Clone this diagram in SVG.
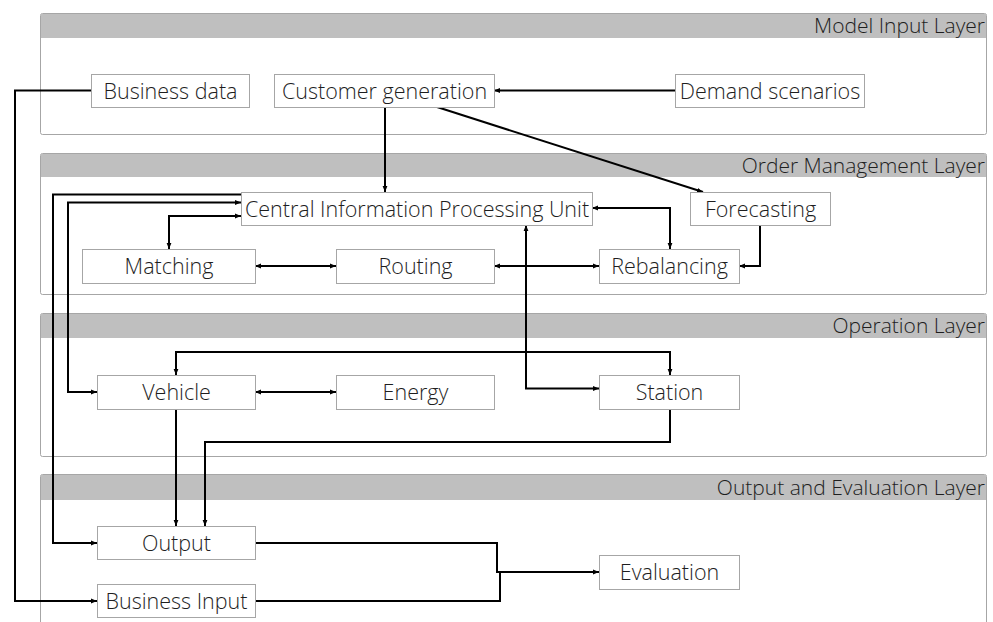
<svg xmlns="http://www.w3.org/2000/svg" width="993" height="622" viewBox="0 0 993 622">
<defs>
<style>
.layer{fill:#fff;stroke:#a6a6a6;stroke-width:1}
.hdr{fill:#bfbfbf}
.ltxt{font-family:"Open Sans",sans-serif;font-weight:300;font-size:21px;fill:#1e1e1e;text-anchor:end}
.box{fill:#fff;stroke:#a6a6a6;stroke-width:1}
.ntxt{font-family:"Open Sans",sans-serif;font-weight:300;font-size:21.5px;fill:#1e1e1e;text-anchor:middle}
.c{fill:none;stroke:#000;stroke-width:2}
</style>
<marker id="ah" viewBox="0 0 10 10" refX="10" refY="5" markerWidth="6" markerHeight="6" markerUnits="userSpaceOnUse" orient="auto-start-reverse">
<path d="M0,1 L10,5 L0,9 z" fill="#000"/>
</marker>
</defs>
<rect width="993" height="622" fill="#fff"/>
<g id="layers">
<g id="layer-model-input">
<rect class="layer" x="40.5" y="13.5" width="946" height="121" rx="2"/>
<rect class="hdr" x="41" y="14" width="945" height="24"/>
<text class="ltxt" x="985" y="33">Model Input Layer</text>
</g>
<g id="layer-order">
<rect class="layer" x="40.5" y="153.5" width="946" height="141" rx="2"/>
<rect class="hdr" x="41" y="154" width="945" height="23"/>
<text class="ltxt" x="985" y="173">Order Management Layer</text>
</g>
<g id="layer-operation">
<rect class="layer" x="40.5" y="313.5" width="946" height="143" rx="2"/>
<rect class="hdr" x="41" y="314" width="945" height="24"/>
<text class="ltxt" x="985" y="333">Operation Layer</text>
</g>
<g id="layer-output">
<rect class="layer" x="40.5" y="474.5" width="946" height="160" rx="2"/>
<rect class="hdr" x="41" y="475" width="945" height="25"/>
<text class="ltxt" x="985" y="495">Output and Evaluation Layer</text>
</g>
</g>
<g id="connectors">
<path class="c" d="M91,90.5 H15 V601 H97" marker-end="url(#ah)"/>
<path class="c" d="M675,90.5 H494" marker-end="url(#ah)"/>
<path class="c" d="M385,107 V192" marker-end="url(#ah)"/>
<path class="c" d="M437,107 L703,192" stroke-width="1.8" marker-end="url(#ah)"/>
<path class="c" d="M241,194.5 H53 V543 H97" marker-end="url(#ah)"/>
<path class="c" d="M241,202.5 H68 V392 H97" marker-start="url(#ah)" marker-end="url(#ah)"/>
<path class="c" d="M241,216 H169 V249" marker-start="url(#ah)" marker-end="url(#ah)"/>
<path class="c" d="M255,266 H336" marker-start="url(#ah)" marker-end="url(#ah)"/>
<path class="c" d="M494,266 H599" marker-start="url(#ah)" marker-end="url(#ah)"/>
<path class="c" d="M592,208 H670 V249" marker-start="url(#ah)" marker-end="url(#ah)"/>
<path class="c" d="M760,225 V266 H739" marker-end="url(#ah)"/>
<path class="c" d="M526,225 V388.5 H599" marker-start="url(#ah)" marker-end="url(#ah)"/>
<path class="c" d="M176,375 V352 H670 V375" marker-start="url(#ah)" marker-end="url(#ah)"/>
<path class="c" d="M255,392 H336" marker-start="url(#ah)" marker-end="url(#ah)"/>
<path class="c" d="M176,409 V526" marker-end="url(#ah)"/>
<path class="c" d="M670,409 V442 H205 V526" stroke-width="2.5" marker-end="url(#ah)"/>
<path class="c" d="M255,543 H497 V572 H501"/>
<path class="c" d="M255,601 H500 V572 H599" marker-end="url(#ah)"/>
</g>
<g id="n-business-data"><rect class="box" x="91.5" y="74.5" width="158" height="33"/><text class="ntxt" x="170.5" y="98.5">Business data</text></g>
<g id="n-customer-generation"><rect class="box" x="274.5" y="74.5" width="220" height="33"/><text class="ntxt" x="384.5" y="98.5">Customer generation</text></g>
<g id="n-demand-scenarios"><rect class="box" x="675.5" y="74.5" width="189" height="33"/><text class="ntxt" x="770" y="98.5">Demand scenarios</text></g>
<g id="n-cipu"><rect class="box" x="241.5" y="192.5" width="351" height="33"/><text class="ntxt" x="417" y="216.5">Central Information Processing Unit</text></g>
<g id="n-forecasting"><rect class="box" x="690.5" y="192.5" width="140" height="33"/><text class="ntxt" x="760.5" y="216.5">Forecasting</text></g>
<g id="n-matching"><rect class="box" x="82.5" y="249.5" width="173" height="34"/><text class="ntxt" x="169" y="274">Matching</text></g>
<g id="n-routing"><rect class="box" x="336.5" y="249.5" width="158" height="34"/><text class="ntxt" x="415.5" y="274">Routing</text></g>
<g id="n-rebalancing"><rect class="box" x="599.5" y="249.5" width="140" height="34"/><text class="ntxt" x="669.5" y="274">Rebalancing</text></g>
<g id="n-vehicle"><rect class="box" x="97.5" y="375.5" width="158" height="34"/><text class="ntxt" x="176.5" y="400">Vehicle</text></g>
<g id="n-energy"><rect class="box" x="336.5" y="375.5" width="158" height="34"/><text class="ntxt" x="415.5" y="400">Energy</text></g>
<g id="n-station"><rect class="box" x="599.5" y="375.5" width="140" height="34"/><text class="ntxt" x="669.5" y="400">Station</text></g>
<g id="n-output"><rect class="box" x="97.5" y="526.5" width="158" height="33"/><text class="ntxt" x="176.5" y="550.5">Output</text></g>
<g id="n-business-input"><rect class="box" x="97.5" y="584.5" width="158" height="33"/><text class="ntxt" x="176.5" y="608.5">Business Input</text></g>
<g id="n-evaluation"><rect class="box" x="599.5" y="555.5" width="140" height="34"/><text class="ntxt" x="669.5" y="580">Evaluation</text></g>
</svg>
